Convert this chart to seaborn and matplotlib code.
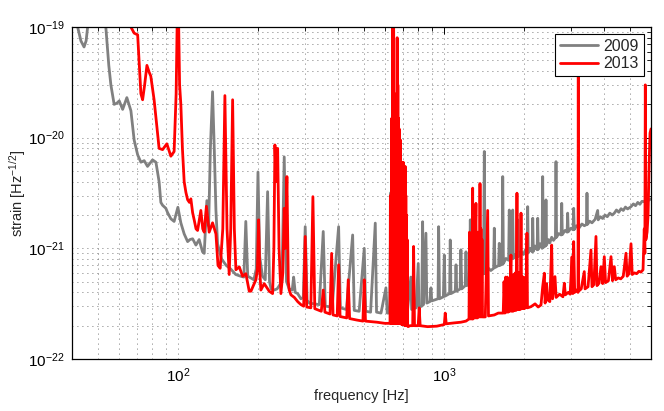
import matplotlib
matplotlib.use("Agg")
import matplotlib.pyplot as plt
import seaborn as sns
import pandas as pd
from matplotlib.ticker import FixedLocator, NullFormatter, LogFormatterSciNotation

# ---------------- data ----------------
years = ["2009", "2013"]
colors = ["#808080", "#ff0000"]

freq_2009 = [40, 42, 43.2, 44.4, 45.2, 45.8, 48, 52, 53.6, 55, 56.0, 57.6, 59, 60.2, 62.0, 64.3, 66.6,
             68.5, 70.6, 72.6, 74.7, 76.9, 79.1, 80.3, 82.7, 85.0, 86.3, 87.6, 90.1, 91.5, 94.1, 96.8,
             100, 102.6, 105.6, 108.8, 111, 113.6, 116.9, 120.2, 123.8, 125.6, 128.5, 130.5, 132.5,
             135, 137, 139, 141, 146, 152, 158, 165, 172, 177, 180, 183, 188, 193, 197, 200, 203,
             208, 213, 217.4, 221, 224, 230, 236, 246, 251, 256, 262, 269, 272.3, 276, 282, 290,
             296, 301, 306, 312, 340, 351.8, 358, 380, 401.9, 408, 430, 453.8, 460, 480, 501.7,
             508, 530, 551.9, 558, 580, 605.3, 612, 625, 632, 640, 650, 700, 730, 751, 756, 785,
             800.5, 805, 825, 831.5, 838, 855.6, 862, 885, 893.5, 900, 950, 955, 962, 995, 1003,
             1010, 1050, 1056, 1063, 1103, 1110, 1117, 1150, 1158, 1166, 1202, 1210, 1218, 1248,
             1256, 1265, 1300, 1340, 1408, 1418, 1428, 1470, 1500, 1537, 1546, 1555, 1605, 1614,
             1623, 1654, 1663, 1673, 1710, 1750, 1760, 1770, 1803, 1813, 1823, 1850, 1883, 1893,
             1903, 1950, 1990, 2020, 2053, 2064, 2075, 2110, 2145, 2156, 2167, 2200, 2240, 2251,
             2262, 2300, 2338, 2350, 2362, 2406, 2418, 2430, 2470, 2500, 2540, 2580, 2624, 2637,
             2650, 2700, 2757, 2771, 2785, 2850, 2903, 2917, 2931, 3000, 3058, 3073, 3088, 3150,
             3220, 3300, 3370, 3431, 3448, 3465, 3530, 3600, 3700, 3782, 3800, 3870, 3950, 4030,
             4110, 4200, 4290, 4368, 4450, 4540, 4630, 4720, 4810, 4900, 5047, 5150, 5250, 5350,
             5450, 5550, 5662, 5750, 5850, 6000]
strain_2009 = [3e-19, 1.0e-19, 7.5e-20, 6.6e-20, 7.5e-20, 1.0e-19, 2.5e-19, 2.5e-19, 1.0e-19, 4.5e-20,
               3.0e-20, 2.0e-20, 2.05e-20, 2.15e-20, 1.8e-20, 2.3e-20, 1.75e-20,
               9.5e-21, 7.0e-21, 6.0e-21, 6.2e-21, 5.5e-21, 6.0e-21, 6.3e-21, 6.0e-21, 4.0e-21,
               2.6e-21, 2.45e-21, 2.3e-21, 2.1e-21, 1.85e-21, 1.75e-21,
               2.35e-21, 1.7e-21, 1.35e-21, 1.15e-21, 1.2e-21, 1.22e-21, 1.07e-21, 1.2e-21, 9.3e-22,
               9.0e-22, 2.7e-21, 1.6e-21, 8.0e-21,
               2.6e-20, 8.0e-21, 2.2e-21, 1.1e-21, 8.0e-22, 7.0e-22, 6.5e-22, 5.8e-22, 5.6e-22,
               5.5e-22, 1.75e-21, 5.6e-22, 5.4e-22, 5.2e-22, 6.5e-22, 4.9e-21, 8.4e-22,
               5.6e-22, 5.2e-22, 3.25e-21, 5.0e-22, 4.3e-22, 4.2e-22, 4.3e-22, 5.0e-22, 6.7e-21,
               5.0e-22, 4.3e-22, 4.2e-22, 5.5e-22, 4.0e-22, 3.9e-22, 3.5e-22,
               3.6e-22, 1.57e-21, 3.4e-22, 3.2e-22, 3.1e-22, 1.42e-21, 3.0e-22, 2.95e-22, 1.57e-21,
               2.9e-22, 2.8e-22, 1.32e-21, 2.75e-22, 2.7e-22, 1.0e-21,
               2.7e-22, 2.65e-22, 1.69e-21, 2.65e-22, 2.6e-22, 4.4e-22, 2.6e-22, 2.6e-22, 3.2e-21,
               6e-22, 2.6e-22, 2.7e-22, 2.8e-22, 5.5e-22, 2.8e-22, 2.9e-22,
               7.3e-22, 2.95e-22, 3.0e-22, 1.74e-21, 3.1e-22, 1.37e-21, 3.2e-22, 3.3e-22, 4.4e-22,
               3.35e-22, 3.5e-22, 1.57e-21, 3.5e-22, 3.65e-22, 8.7e-22,
               3.7e-22, 3.9e-22, 1.19e-21, 3.9e-22, 4.1e-22, 7.1e-22, 4.1e-22, 4.3e-22, 9.7e-22,
               4.3e-22, 4.6e-22, 9.3e-22, 4.6e-22, 4.8e-22,
               1.81e-21, 4.9e-22, 5.1e-22, 5.5e-22, 5.9e-22, 7.5e-21, 5.9e-22, 6.6e-22, 6.3e-22,
               6.6e-22, 1.52e-21, 6.7e-22, 7.0e-22, 1.11e-21,
               7.0e-22, 7.2e-22, 4.45e-21, 7.3e-22, 8.1e-22, 7.8e-22, 2.22e-21, 7.9e-22, 8.1e-22,
               2.22e-21, 8.1e-22, 8.8e-22, 8.4e-22, 1.81e-21,
               8.4e-22, 9.4e-22, 8.8e-22, 9.6e-22, 9.0e-22, 2.38e-21, 9.1e-22, 1.0e-21, 9.3e-22,
               1.87e-21, 9.4e-22, 1.05e-21, 9.7e-22, 1.87e-21,
               9.8e-22, 1.1e-21, 1.0e-21, 4.45e-21, 1.02e-21, 1.05e-21, 2.74e-21, 1.07e-21, 1.2e-21,
               1.12e-21, 1.26e-21, 1.18e-21, 1.25e-21, 6.07e-21,
               1.26e-21, 1.36e-21, 1.32e-21, 2.55e-21, 1.33e-21, 1.45e-21, 1.4e-21, 2.08e-21,
               1.41e-21, 1.52e-21, 1.47e-21, 2.3e-21, 1.48e-21, 1.6e-21,
               1.53e-21, 1.66e-21, 1.6e-21, 1.64e-21, 3.15e-21, 1.65e-21, 1.76e-21, 1.7e-21,
               1.83e-21, 2.2e-21, 1.81e-21, 1.93e-21, 1.86e-21, 2.0e-21,
               1.93e-21, 2.08e-21, 2.0e-21, 2.08e-21, 2.22e-21, 2.12e-21, 2.28e-21, 2.2e-21,
               2.36e-21, 2.27e-21, 2.38e-21, 2.52e-21, 2.43e-21, 2.6e-21,
               2.5e-21, 2.66e-21, 2.64e-21, 2.78e-21, 2.7e-21, 2.8e-21]

# 2013: broadband curve and isolated lines
freq_2013 = [40, 55, 64, 66.6, 68.5, 70.6, 72.6, 73.7, 75, 76.5, 78, 79.1, 81.4, 83, 85.0, 87.6,
             90.9, 94.1, 96.8, 98.5, 100, 101.5, 102.6, 104, 105.6, 107.2, 108.8, 110.5, 111.9,
             113.6, 115.2, 117, 118.6, 122, 124, 125.6, 128, 131.1, 135, 139, 141.5, 144.2,
             147.5, 150.2, 153, 155.9, 158, 160.6, 163, 165.2, 170.1, 175.1, 180.1, 185.4, 188.2,
             193.6, 196.5, 199, 201.1, 203, 205.1, 211.1, 220.4, 227, 229.5, 231.6, 234, 237.1,
             240, 243.9, 248, 251, 253.5, 256.9, 260, 262.1, 266, 274, 282, 290, 297, 301, 305,
             316, 321.7, 327, 346, 351.8, 357, 373, 378.3, 383, 397, 401.9, 407, 431, 436.8, 442,
             470, 496, 501.7, 507, 560, 600, 623,
             745, 763, 769, 775, 800, 807, 814, 868, 940, 1003, 1011, 1020, 1093, 1158, 1210,
             1430, 1460, 1470, 1546, 1600,
             2124, 2200, 2260,
             2316, 2350, 2384, 2400, 2430, 2454, 2500, 2540, 2560, 2614, 2640, 2720, 2800, 2834,
             2860, 2930, 2980, 3030, 3050, 3073, 3100, 3150, 3190, 3198, 3206, 3280, 3368, 3390,
             3480, 3569, 3600, 3660, 3727, 3760, 3830, 3892, 3950, 4005, 4050, 4150, 4245, 4300,
             4368, 4420, 4520, 4620, 4720, 4833, 4880, 4960, 5047, 5100, 5200, 5300, 5400, 5500,
             5600, 5660, 5690, 5712, 5740, 5800, 5850, 5900, 5950, 6000]
strain_2013 = [5e-19, 4e-19, 2e-19, 1.0e-19, 8.8e-20, 8.5e-20, 2.5e-20, 2.2e-20, 3.0e-20, 4.5e-20,
               3.9e-20, 3.6e-20, 2.2e-20, 1.4e-20, 8.0e-21, 7.8e-21,
               8.8e-21, 6.8e-21, 7.5e-21, 2.5e-20, 3e-19, 3.0e-20, 2.0e-20, 8e-21, 4.0e-21, 3.2e-21,
               2.75e-21, 2.6e-21, 2.8e-21,
               2.1e-21, 1.8e-21, 1.5e-21, 1.45e-21, 2.2e-21, 1.5e-21, 1.4e-21, 2.4e-21, 1.4e-21,
               1.7e-21, 1.35e-21, 7.0e-22, 6.6e-22,
               1.5e-21, 2.4e-20, 1.5e-21, 5.8e-22, 1.5e-21, 2.2e-20, 1.5e-21, 6.4e-22, 6.8e-22,
               5.6e-22, 5.9e-22, 4.1e-22, 4.1e-22,
               4.8e-22, 5.2e-22, 6.5e-22, 1.81e-21, 6.5e-22, 4.2e-22, 4.8e-22, 4.1e-22, 3.9e-22,
               1.0e-21, 8.6e-21, 4e-21, 8.0e-21,
               1.0e-21, 3.9e-22, 6e-22, 2.3e-21, 1.0e-21, 4.45e-21, 5e-22, 4.2e-22, 3.8e-22,
               3.6e-22, 3.3e-22, 3.1e-22, 3.0e-22, 1.28e-21, 2.95e-22,
               2.9e-22, 2.93e-21, 2.85e-22, 2.7e-22, 4.2e-22, 2.65e-22, 2.55e-22, 9.0e-22, 2.5e-22,
               2.45e-22, 7.1e-22, 2.42e-22, 2.35e-22, 5.2e-22, 2.32e-22,
               2.25e-22, 2.2e-22, 5.2e-22, 2.2e-22, 2.15e-22, 2.1e-22, 2.1e-22,
               2.0e-22, 2.0e-22, 1.04e-21, 2.0e-22, 2.0e-22, 2.9e-22, 2.0e-22, 1.96e-22, 1.98e-22,
               2.05e-22, 2.6e-22, 2.08e-22, 2.12e-22, 2.15e-22, 2.2e-22,
               2.4e-22, 2.2e-21, 2.45e-22, 2.5e-22, 2.6e-22,
               2.97e-22, 3.15e-22, 2.95e-22,
               3.08e-22, 4.5e-22, 5.96e-22, 3.2e-22, 4.8e-22, 3.42e-22, 3.3e-22, 1.07e-21, 3.5e-22,
               5.55e-22, 3.6e-22, 3.85e-22, 3.65e-22, 4.84e-22,
               3.8e-22, 4.0e-22, 3.85e-22, 8.4e-22, 3.9e-22, 1.15e-21, 4.0e-22, 4.2e-22, 4.0e-22,
               5e-20, 4.1e-22, 4.3e-22, 6.16e-22, 4.3e-22,
               4.5e-22, 9.67e-22, 4.5e-22, 4.7e-22, 1.28e-21, 4.6e-22, 4.85e-22, 6.83e-22, 4.8e-22,
               8.41e-22, 4.9e-22, 5.1e-22, 8.41e-22, 5.1e-22,
               6.83e-22, 5.2e-22, 5.4e-22, 5.3e-22, 5.6e-22, 9.03e-22, 5.6e-22, 5.9e-22, 1.1e-21,
               5.8e-22, 6.0e-22, 5.9e-22, 6.2e-22, 6.1e-22,
               6.4e-22, 1.5e-21, 9e-22, 3e-20, 1.2e-21, 1.4e-21, 2e-21, 5.5e-21, 1.1e-20, 1.2e-20]

# 2013: dense clusters of lines (violin modes and harmonics)
cluster1_freq = [627, 629, 631, 633, 635, 637, 639, 641, 643, 645, 647, 649, 651, 653, 655, 657,
                 659, 661, 663, 665, 667, 669, 671, 673, 675, 677, 679, 681, 683, 685, 687, 689,
                 691, 693, 695, 697, 699, 701, 703, 705, 707, 709, 711, 713, 715, 717, 719, 721,
                 723, 725, 727, 729, 733]
cluster1_strain = [2.1e-22, 3e-21, 2.1e-22, 2.5e-21, 2.1e-22, 1.5e-20, 2.1e-22, 2e-19, 2.1e-22,
                   3e-20, 1.5e-19, 2.1e-22, 8e-21, 2.1e-22, 1.2e-20, 2.1e-22, 9e-21, 2.1e-22,
                   2.5e-20, 2.1e-22, 8e-20, 2.1e-22, 3e-20, 2.1e-22, 1.5e-20, 2.1e-22, 1.2e-20,
                   2.1e-22, 8e-21, 2.1e-22, 9.5e-21, 2.1e-22, 6e-21, 2.05e-22, 5e-21, 2.05e-22,
                   4e-21, 2.05e-22, 6e-21, 2.05e-22, 5.5e-21, 2.05e-22, 4e-21, 2.0e-22, 5.5e-21,
                   2.0e-22, 3e-21, 2.0e-22, 2e-21, 2.0e-22, 1.2e-21, 2.0e-22, 1.96e-22]

cluster2_freq = [1242, 1248, 1254, 1260, 1266, 1272, 1278, 1282, 1286, 1292, 1298, 1304, 1310,
                 1314, 1319, 1324, 1330, 1336, 1342, 1348, 1354, 1360, 1366, 1372, 1378, 1384,
                 1390, 1396]
cluster2_strain = [2.3e-22, 1.4e-21, 2.3e-22, 1.2e-21, 2.3e-22, 1.3e-21, 2.3e-22, 3.5e-21, 2.3e-22,
                   1.5e-21, 2.35e-22, 1.3e-21, 2.35e-22, 1.5e-21, 2.55e-21, 2.35e-22, 1.3e-21,
                   2.35e-22, 1.4e-21, 2.4e-22, 1.3e-21, 2.4e-22, 3.85e-21, 2.4e-22, 1.5e-21,
                   2.4e-22, 1.2e-21, 2.4e-22]

cluster3_freq = [1670, 1682, 1694, 1706, 1718, 1730, 1742, 1754, 1766, 1778, 1786, 1794, 1806,
                 1818, 1830, 1842, 1854, 1866, 1875, 1881, 1888, 1900, 1912, 1924, 1936, 1948,
                 1958, 1970, 1982, 1994, 2006, 2018, 2030, 2042, 2051, 2060]
cluster3_strain = [2.6e-22, 5e-22, 2.6e-22, 5.5e-22, 2.65e-22, 5.5e-22, 2.65e-22, 5.2e-22, 2.7e-22,
                   6e-22, 8.7e-22, 2.7e-22, 5.5e-22, 2.7e-22, 5.8e-22, 2.75e-22, 6e-22, 2.75e-22,
                   7e-22, 3.15e-21, 2.8e-22, 6e-22, 2.8e-22, 6e-22, 2.8e-22, 2.08e-21, 2.85e-22,
                   5.5e-22, 2.85e-22, 5.5e-22, 2.85e-22, 5e-22, 2.9e-22, 6e-22, 1.37e-21, 2.9e-22]

df = pd.concat([
    pd.DataFrame({"frequency": freq_2009, "strain": strain_2009, "year": years[0]}),
    pd.DataFrame({"frequency": freq_2013 + cluster1_freq + cluster2_freq + cluster3_freq,
                  "strain": strain_2013 + cluster1_strain + cluster2_strain + cluster3_strain,
                  "year": years[1]}),
], ignore_index=True)

# ---------------- style ----------------
sns.set_theme(style="white")
plt.rcParams["font.family"] = ["Liberation Sans", "DejaVu Sans"]
plt.rcParams["mathtext.fontset"] = "custom"
plt.rcParams["mathtext.rm"] = "Liberation Sans"
plt.rcParams["mathtext.it"] = "Liberation Sans:italic"
plt.rcParams["mathtext.bf"] = "Liberation Sans:bold"
plt.rcParams["path.simplify"] = False

fig = plt.figure(figsize=(6.64, 4.11), dpi=100)
ax = fig.add_axes([72 / 664, 1 - 359 / 411, (651 - 72) / 664, (359 - 27) / 411])

sns.lineplot(data=df, x="frequency", y="strain", hue="year", hue_order=years,
             palette=dict(zip(years, colors)), estimator=None, sort=True,
             linewidth=2.0, ax=ax, legend=True)

ax.set_xscale("log")
ax.set_yscale("log")
ax.set_xlim(40, 6000)
ax.set_ylim(1e-22, 1e-19)

x_major = [100, 1000]
x_minor = [40, 50, 60, 70, 80, 90, 200, 300, 400, 500, 600, 700, 800, 900,
           2000, 3000, 4000, 5000, 6000]
y_major = [1e-22, 1e-21, 1e-20, 1e-19]
y_minor = [m * 10.0 ** e for e in (-22, -21, -20) for m in range(2, 10)]
ax.xaxis.set_major_locator(FixedLocator(x_major))
ax.xaxis.set_minor_locator(FixedLocator(x_minor))
ax.yaxis.set_major_locator(FixedLocator(y_major))
ax.yaxis.set_minor_locator(FixedLocator(y_minor))
ax.xaxis.set_major_formatter(LogFormatterSciNotation())
ax.yaxis.set_major_formatter(LogFormatterSciNotation())
ax.xaxis.set_minor_formatter(NullFormatter())
ax.yaxis.set_minor_formatter(NullFormatter())

ax.grid(True, which="both", color="0.3", linestyle=(0, (1, 5)), linewidth=0.6)
ax.set_axisbelow(True)
for s in ax.spines.values():
    s.set_color("black")
    s.set_linewidth(0.9)
    s.set_visible(True)
ax.tick_params(which="both", direction="in", top=True, right=True, colors="black",
               labelsize=11, pad=5)
ax.tick_params(which="major", length=5, width=0.7)
ax.tick_params(which="minor", length=3, width=0.6)

ax.set_xlabel("frequency [Hz]", fontsize=10.5, labelpad=3)
ax.set_ylabel("strain [Hz$^{-1/2}$]", fontsize=10.5, labelpad=0)

leg = ax.legend(loc="upper right", fontsize=11.5, frameon=True, fancybox=False,
                edgecolor="black", framealpha=1, borderaxespad=0.45, handlelength=2.4,
                handletextpad=0.35, borderpad=0.3, labelspacing=0.15)
leg.get_frame().set_linewidth(0.8)
leg.set_title(None)
for line in leg.get_lines():
    line.set_linewidth(2.0)

fig.savefig("out.png", dpi=100)
